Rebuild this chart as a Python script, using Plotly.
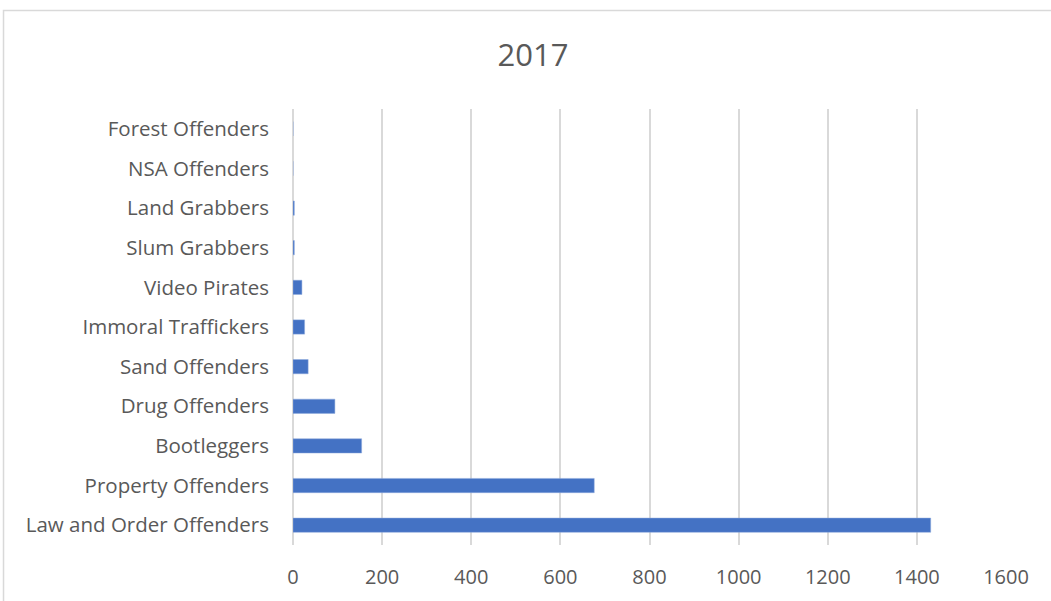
import plotly.graph_objects as go

categories = ["Law and Order Offenders", "Property Offenders", "Bootleggers", "Drug Offenders",
              "Sand Offenders", "Immoral Traffickers", "Video Pirates", "Slum Grabbers",
              "Land Grabbers", "NSA Offenders", "Forest Offenders"]
values = [1431, 676, 154, 94, 34, 26, 20, 3, 3, 0, 0]
x_ticks = [0, 200, 400, 600, 800, 1000, 1200, 1400, 1600]

fig = go.Figure(go.Bar(
    x=values, y=categories, orientation="h",
    marker=dict(color="#4472C4", line=dict(color="#8FAADC", width=0.5)),
))

font = "Open Sans, Liberation Sans, sans-serif"
fig.update_layout(
    width=1051, height=601,
    margin=dict(l=293, r=45, t=109, b=56, autoexpand=False),
    paper_bgcolor="white", plot_bgcolor="white",
    bargap=0.64,
    showlegend=False,
    title=dict(text="2017", x=533 / 1051, xref="container", xanchor="center",
               y=1 - 55 / 601, yref="container", yanchor="middle",
               font=dict(family=font, size=31, color="#595959")),
    font=dict(family=font, color="#595959"),
    xaxis=dict(range=[0, 1600], tickvals=x_ticks, showgrid=True, gridcolor="#D9D9D9", gridwidth=1.5,
               zeroline=True, zerolinecolor="#D9D9D9", zerolinewidth=1.5,
               tickfont=dict(size=20, color="#595959"), ticklabelstandoff=18, showline=False,
               automargin=False, fixedrange=True),
    yaxis=dict(categoryorder="array", categoryarray=categories, showgrid=False,
               tickfont=dict(size=20.5, color="#595959"), ticklabelstandoff=23, showline=False,
               automargin=False, range=[-0.5, 10.5], fixedrange=True),
    shapes=[dict(type="rect", xref="paper", yref="paper", x0=-0.406, y0=-0.3, x1=1.2, y1=1.226,
                 line=dict(color="#D9D9D9", width=1.5), fillcolor="rgba(0,0,0,0)", layer="below")],
)
fig.write_html("out.html", config={"displayModeBar": False},
               post_script="document.body.style.margin='0';document.body.style.overflow='hidden';")
